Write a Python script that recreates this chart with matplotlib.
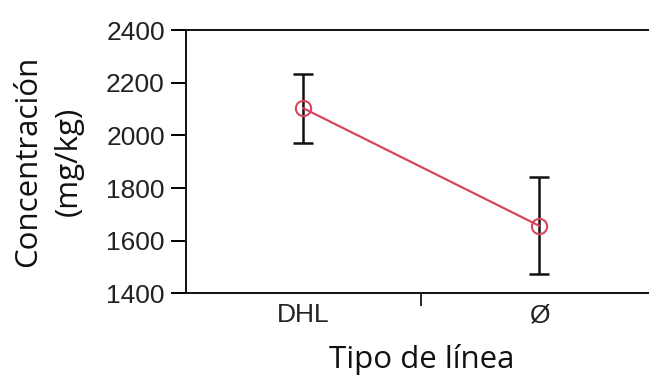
import matplotlib
matplotlib.use("Agg")
import matplotlib.pyplot as plt
import numpy as np

# data
categories = ["DHL", "Ø"]
means = [2103, 1657]
upper = [2235, 1843]
lower = [1971, 1473]

line_color = "#d9445f"

fig = plt.figure(figsize=(6.49, 3.77), dpi=100)
ax = fig.add_axes([0.286, 0.222, 0.726, 0.698])

x = np.arange(1, len(categories) + 1)
yerr = [np.array(means) - np.array(lower), np.array(upper) - np.array(means)]
ax.errorbar(x, means, yerr=yerr, fmt="none", ecolor="#111111",
            elinewidth=1.8, capsize=7, capthick=1.8, zorder=2)
ax.plot(x, means, color=line_color, lw=1.6, marker="o", markersize=11,
        markerfacecolor="none", markeredgecolor=line_color,
        markeredgewidth=1.5, zorder=3)

ax.set_xlim(0.5, 2.5)
ax.set_ylim(1400, 2400)
ax.set_yticks([1400, 1600, 1800, 2000, 2200, 2400])
ax.set_xticks(x)
ax.set_xticklabels(categories)
ax.set_xticks([1.5], minor=True)

for lab in ax.get_yticklabels() + ax.get_xticklabels():
    lab.set_fontfamily("Liberation Sans")
    lab.set_fontsize(19)
    lab.set_color("#222222")

ax.tick_params(axis="y", direction="out", length=11, width=1.4, pad=4)
ax.tick_params(axis="x", which="major", length=0, pad=7)
ax.tick_params(axis="x", which="minor", direction="out", length=9, width=1.2)

for side in ["left", "bottom", "top", "right"]:
    ax.spines[side].set_linewidth(1.4)
    ax.spines[side].set_color("#111111")

ax.set_xlabel("Tipo de línea", fontfamily="Open Sans", fontsize=22.5,
              labelpad=12.5, color="#111111")
ax.set_ylabel("Concentración\n(mg/kg)", fontfamily="Open Sans", fontsize=22.5,
              labelpad=16, color="#111111", linespacing=1.45)

fig.savefig("out.png", dpi=100)
